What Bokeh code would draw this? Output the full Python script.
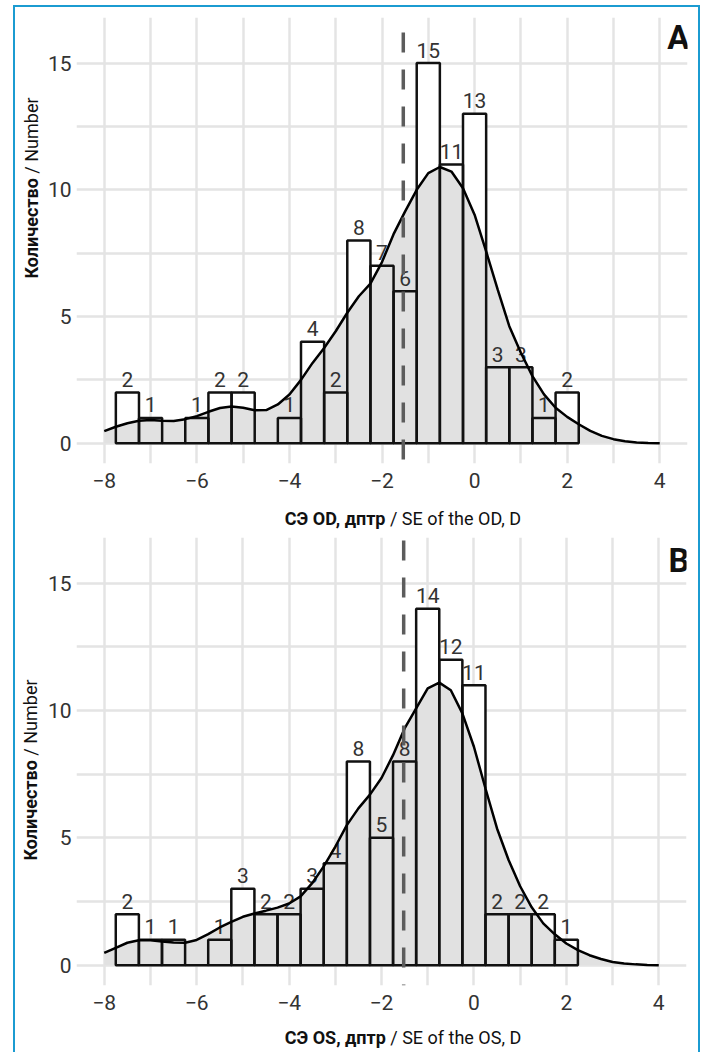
from bokeh.plotting import figure
from bokeh.layouts import column, row
from bokeh.models import FixedTicker, Span, Label, ColumnDataSource, Range1d, Div
from bokeh.core.properties import value
from bokeh.embed import file_html
from bokeh.resources import INLINE

# ---------------- data ----------------
bin_centers = [-7.5, -7.0, -6.5, -6.0, -5.5, -5.0, -4.5, -4.0, -3.5, -3.0,
               -2.5, -2.0, -1.5, -1.0, -0.5, 0.0, 0.5, 1.0, 1.5, 2.0]
bin_width = 0.5
counts_od = [2, 1, 0, 1, 2, 2, 0, 1, 4, 2, 8, 7, 6, 15, 11, 13, 3, 3, 1, 2]
counts_os = [2, 1, 1, 0, 1, 3, 2, 2, 3, 4, 8, 5, 8, 14, 12, 11, 2, 2, 2, 1]

dens_x = [-8.0, -7.75, -7.5, -7.25, -7.0, -6.75, -6.5, -6.25, -6.0, -5.75,
          -5.5, -5.25, -5.0, -4.75, -4.5, -4.25, -4.0, -3.75, -3.5, -3.25,
          -3.0, -2.75, -2.5, -2.25, -2.0, -1.75, -1.5, -1.25, -1.0, -0.75,
          -0.5, -0.25, 0.0, 0.25, 0.5, 0.75, 1.0, 1.25, 1.5, 1.75,
          2.0, 2.25, 2.5, 2.75, 3.0, 3.25, 3.5, 3.75, 4.0]
dens_od = [0.48, 0.65, 0.79, 0.89, 0.92, 0.89, 0.88, 0.95, 1.07, 1.24,
           1.39, 1.45, 1.40, 1.30, 1.31, 1.53, 1.92, 2.50, 3.17, 3.76,
           4.42, 5.15, 5.80, 6.30, 7.15, 8.25, 9.15, 10.00, 10.66, 10.90,
           10.72, 10.06, 9.02, 7.57, 6.06, 4.62, 3.57, 2.65, 1.93, 1.40,
           1.04, 0.75, 0.49, 0.29, 0.16, 0.08, 0.03, 0.01, 0.0]
dens_os = [0.48, 0.68, 0.88, 0.98, 0.98, 0.93, 0.89, 0.88, 0.99, 1.22,
           1.48, 1.70, 1.90, 2.03, 2.14, 2.26, 2.42, 2.70, 3.22, 3.88,
           4.65, 5.50, 6.16, 6.70, 7.35, 8.25, 9.30, 10.09, 10.87, 11.10,
           10.80, 9.89, 8.58, 6.94, 5.37, 4.13, 3.10, 2.27, 1.64, 1.21,
           0.85, 0.59, 0.39, 0.24, 0.12, 0.06, 0.03, 0.01, 0.0]

mean_od = -1.54
mean_os = -1.52

x_ticks = [-8, -6, -4, -2, 0, 2, 4]
x_minor = [-7, -5, -3, -1, 1, 3]
y_ticks = [0, 5, 10, 15]
y_minor = [2.5, 7.5, 12.5]

y_title_bold = "Количество"
y_title_norm = "/ Number"
x_title_bold_od = "СЭ OD, дптр"
x_title_norm_od = "/ SE of the OD, D"
x_title_bold_os = "СЭ OS, дптр"
x_title_norm_os = "/ SE of the OS, D"

# ---------------- style ----------------
FONT = "Roboto, sans-serif"
GRID = "#e4e4e4"
FILL = "#e1e1e1"
DARK = "#111111"
TXT = "#333333"
BLUE = "#1b9bd1"


def minus(t):
    return ("\u2212" + str(abs(t))) if t < 0 else str(t)


def panel(counts, dens, mean, letter, height, top, bottom, left, right,
          frame_w, frame_h, dash_offset, letter_y):
    p = figure(width=left + frame_w + right, height=height,
               x_range=Range1d(-8.6, 4.6), y_range=Range1d(-0.8, 16.8),
               min_border_left=left, min_border_right=right,
               min_border_top=top, min_border_bottom=bottom,
               toolbar_location=None, output_backend="svg")
    p.outline_line_color = None
    p.background_fill_color = "white"
    p.border_fill_color = "white"

    p.xaxis.ticker = FixedTicker(ticks=x_ticks, minor_ticks=x_minor)
    p.yaxis.ticker = FixedTicker(ticks=y_ticks, minor_ticks=y_minor)
    p.xaxis.major_label_overrides = {t: minus(t) for t in x_ticks}
    p.yaxis.major_label_overrides = {t: minus(t) for t in y_ticks}
    for ax in (p.xaxis[0], p.yaxis[0]):
        ax.axis_line_color = None
        ax.major_tick_line_color = None
        ax.minor_tick_line_color = None
        ax.major_tick_out = 0
        ax.major_tick_in = 0
        ax.minor_tick_out = 0
        ax.minor_tick_in = 0
        ax.major_label_text_font = FONT
        ax.major_label_text_font_size = "21px"
        ax.major_label_text_color = TXT
    p.xaxis.major_label_standoff = 9
    p.yaxis.major_label_standoff = 5

    for g in (p.xgrid[0], p.ygrid[0]):
        g.grid_line_color = GRID
        g.grid_line_width = 2.5
        g.minor_grid_line_color = GRID
        g.minor_grid_line_width = 2.5

    left_e = [c - bin_width / 2 for c in bin_centers]
    right_e = [c + bin_width / 2 for c in bin_centers]
    src = ColumnDataSource(dict(left=left_e, right=right_e, top=counts,
                                bottom=[0] * len(counts)))
    p.quad(left="left", right="right", top="top", bottom="bottom", source=src,
           fill_color="white", line_color=None)
    p.varea(x=dens_x, y1=[0] * len(dens_x), y2=dens, fill_color=FILL)
    p.quad(left="left", right="right", top="top", bottom="bottom", source=src,
           fill_color=None, line_color=DARK, line_width=2.5)
    lx = [c for c, n in zip(bin_centers, counts) if n > 0]
    ly = [n for n in counts if n > 0]
    lt = [str(n) for n in counts if n > 0]
    p.text(x=lx, y=ly, text=lt, text_font=value(FONT), text_font_size="21px",
           text_color=TXT, text_align="center", text_baseline="middle",
           y_offset=-13)
    p.line(x=dens_x, y=dens, line_color="black", line_width=2.5)
    p.add_layout(Span(location=mean, dimension="height", line_color="#5c5c5c",
                      line_width=3.5, line_dash="20 17",
                      line_dash_offset=dash_offset))
    p.add_layout(Label(x=frame_w, y=letter_y, x_units="screen",
                       y_units="screen", text=letter, text_font=FONT,
                       text_font_size="33px", text_font_style="bold",
                       text_color="#111111", text_align="right",
                       text_baseline="middle"))
    return p


def ytitle(height, cx, cy):
    html = (
        f'<div style="position:relative;width:29px;height:{height}px;">'
        f'<div style="position:absolute;left:{cx}px;top:{cy}px;'
        'transform:translate(-50%,-50%) rotate(-90deg);white-space:nowrap;'
        'font-family:Roboto,sans-serif;font-size:18px;line-height:20px;'
        f'color:#111;"><b>{y_title_bold}</b> {y_title_norm}</div></div>'
    )
    return Div(text=html, width=29, height=height, margin=0)


def xtitle(bold, norm, pad_top):
    html = (
        f'<div style="width:683px;height:31px;box-sizing:border-box;'
        f'padding-top:{pad_top}px;padding-left:93px;text-align:center;'
        'font-family:Roboto,sans-serif;font-size:18px;line-height:20px;'
        f'color:#111;white-space:nowrap;"><b>{bold}</b> {norm}</div>'
    )
    return Div(text=html, width=683, height=31, margin=0)


pA = panel(counts_od, dens_od, mean_od, "A", 492, 10, 36, 30, 11, 613, 446,
           22, 426)
pB = panel(counts_os, dens_os, mean_os, "B", 491, 7, 36, 29, 12, 613, 448,
           34, 425)

layout = column(
    row(ytitle(492, 17, 181), pA, spacing=0),
    xtitle(x_title_bold_od, x_title_norm_od, 10),
    row(ytitle(491, 16, 240), pB, spacing=0),
    xtitle(x_title_bold_os, x_title_norm_os, 7),
    spacing=0,
    styles={
        "border-top": f"2px solid {BLUE}",
        "border-left": f"2px solid {BLUE}",
        "border-right": f"2px solid {BLUE}",
        "margin-top": "5px",
        "margin-left": "13px",
    },
)

open("out.html", "w").write(file_html(layout, INLINE))
